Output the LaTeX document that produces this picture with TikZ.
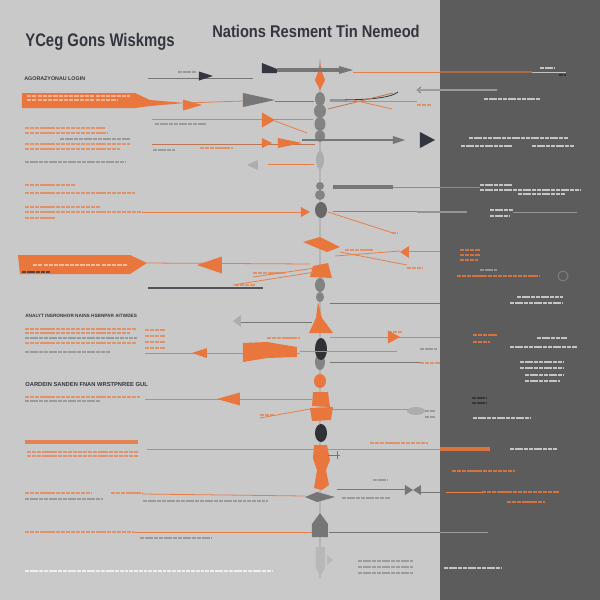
\documentclass[tikz,border=0pt]{standalone}
\usepackage{graphicx}
\usepackage{fontspec}
\setmainfont{Liberation Sans}
\usetikzlibrary{positioning,calc}
\definecolor{canvas}{HTML}{C9C9C9}
\definecolor{panel}{HTML}{5C5C5C}
\definecolor{ora}{HTML}{E9763C}
\definecolor{slate}{HTML}{33363E}
\definecolor{ash}{HTML}{767676}
\definecolor{fog}{HTML}{ADADAD}
\definecolor{coal}{HTML}{2F3136}
\definecolor{chalk}{HTML}{C4C4C4}

\begin{document}
\begin{tikzpicture}
[x=0.02cm, y=-0.02cm,
hdr/.style={anchor=west, inner sep=0pt, text=slate, font=\bfseries\fontsize{9}{9}\selectfont},
lbl/.style={anchor=west, inner sep=0pt, text=slate, font=\bfseries\fontsize{4}{4}\selectfont},
oline/.style={draw=ora!90!canvas, line width=0.45pt},
gline/.style={draw=ash, line width=0.45pt},
otxt/.style={draw=ora!65!canvas, line width=1.1pt, dash pattern=on 2.4pt off 0.5pt},
gtxt/.style={draw=ash!55!canvas, line width=1pt, dash pattern=on 2.2pt off 0.5pt},
wtxt/.style={draw=chalk, line width=1pt, dash pattern=on 2.2pt off 0.5pt},
tri/.pic={\path[pic actions] (0,-1) -- (1,0) -- (0,1) -- cycle;}]

\useasboundingbox (0,0) rectangle (600,600);
\fill[canvas] (0,0) rectangle (440,600);
\fill[panel] (440,0) rectangle (600,600);

% headings and labels
\node[hdr] (hdrL) at (25,42) {\resizebox{85pt}{7.5pt}{YCeg Gons Wiskmgs}};
\node[hdr] (hdrR) at (212,31) {\resizebox{118pt}{7pt}{Nations Resment Tin Nemeod}};
\node[lbl] (lblA) at (24,79) {\resizebox{34.6pt}{!}{AGORAZYONAU LOGIN}};
\node[lbl] (lblB) at (25,316) {\resizebox{63.5pt}{!}{ANALYT INSRONHOR NAINS HSBNPAR AITWDES}};
\node[lbl] (lblC) at (25,385) {\resizebox{69.7pt}{!}{OARDEIN SANDEN FNAN WRSTPNREE GUL}};

% text rows, left side
\foreach \xa/\xb/\yy in {25/105/128, 25/108/133, 25/130/144, 25/120/149, 25/75/185, 25/135/193,
  25/100/207, 25/143/212, 25/55/218, 25/137/329, 25/130/333, 25/137/343, 145/165/330, 145/165/336,
  145/165/342, 145/165/348, 25/140/397, 27/138/452, 27/138/456, 25/92/493, 111/142/493, 25/134/532,
  200/233/148, 267/300/338, 253/285/273, 235/255/285, 260/275/415, 388/402/332, 407/423/268,
  392/398/233, 345/373/250, 417/432/105, 370/428/443, 420/440/363}
  \draw[otxt] (\xa,\yy) -- (\xb,\yy);
\foreach \xa/\xb/\yy in {60/130/139, 25/125/162, 155/207/124, 153/175/150, 25/137/338, 25/110/352,
  25/100/401, 25/103/499, 143/268/501, 140/212/538, 178/196/72, 420/437/349, 425/435/411,
  425/435/417, 342/390/498, 373/388/480, 358/413/561, 358/413/567, 358/413/573}
  \draw[gtxt] (\xa,\yy) -- (\xb,\yy);
\draw[wtxt, draw=white!70!canvas, line width=1.2pt] (25,571) -- (272,571);

% text rows, dark panel
\foreach \xa/\xb/\yy in {540/555/68, 484/540/99, 469/568/138, 461/513/146, 532/574/146, 480/513/185,
  480/580/190, 518/565/194, 490/513/210, 490/510/216, 517/563/297, 510/563/303, 537/567/338,
  510/577/347, 520/563/362, 520/563/368, 525/563/375, 525/560/381, 473/530/418, 510/557/449,
  444/501/568}
  \draw[wtxt] (\xa,\yy) -- (\xb,\yy);
\foreach \xa/\xb/\yy in {460/480/250, 460/480/255, 460/478/260, 457/540/276, 473/497/335,
  473/490/342, 452/515/471, 482/559/492, 507/545/502}
  \draw[otxt, draw=ora!85!panel] (\xa,\yy) -- (\xb,\yy);
\draw[gtxt, draw=slate] (472,398) -- (487,398) (472,403) -- (487,403) (559,75) -- (566,75);
\draw[gtxt, draw=fog!70!panel] (480,270) -- (497,270);
\draw[fog!40!panel, line width=0.6pt] (563,276) circle [radius=5];

% banners
\fill[ora] (22,93) -- (135,93) -- (150,100) -- (185,103) -- (150,106) -- (135,108) -- (22,108) -- cycle;
\draw[ora!55!white, line width=0.9pt, dash pattern=on 2.4pt off 0.6pt] (27,96) -- (130,96) (27,100) -- (118,100);
\fill[ora] (18,255) -- (130,255) -- (147,263) -- (130,274) -- (20,274) -- cycle;
\draw[ora!50!white, line width=1pt, dash pattern=on 2.4pt off 0.6pt] (33,265) -- (127,265);
\draw[gtxt, draw=slate!80!ora] (22,272) -- (50,272);
\draw[ora!85!canvas, line width=2.4pt] (25,442) -- (138,442);

% spine
\coordinate (spT) at (320,60);
\coordinate (spB) at (320,578);
\draw[fog!70!canvas, line width=1.6pt] (spT) -- (spB);
\foreach \yy/\rx/\ry in {99/5/7, 111/6/7, 124/5.5/7, 136/5/6, 186/4/4, 195/5/5, 285/5/7, 297/4/5, 362/5/8}
  \fill[ash!85!canvas] (320,\yy) ellipse [x radius=\rx, y radius=\ry];
\fill[fog] (320,160) ellipse [x radius=4, y radius=9];
\fill[ash!80!coal] (321,210) ellipse [x radius=6, y radius=8];
\fill[coal] (321,349) ellipse [x radius=6, y radius=11];
\fill[coal] (321,433) ellipse [x radius=6, y radius=9];
\fill[ora] (320,62) -- (322,72) -- (325,80) -- (320,90) -- (315,80) -- (318,72) -- cycle;
\fill[ora] (303,242) -- (320,237) -- (340,247) -- (327,252) -- cycle;
\fill[ora] (310,277) -- (313,266) -- (328,263) -- (332,278) -- cycle;
\fill[ora] (318,302) -- (322,318) -- (333,333) -- (309,333) -- (316,318) -- cycle;
\fill[ora] (320,381) ellipse [x radius=6, y radius=7];
\fill[ora] (313,392) -- (328,392) -- (330,407) -- (312,406) -- cycle;
\fill[ora] (310,408) -- (333,407) -- (331,420) -- (312,421) -- cycle;
\fill[ora] (314,445) -- (327,445) -- (330,460) -- (326,470) -- (329,485) -- (322,490) -- (314,488) -- (317,470) -- (313,458) -- cycle;
\fill[ash] (305,497) -- (317,492) -- (335,497) -- (317,502) -- cycle;
\fill[ash] (312,537) -- (312,524) -- (320,513) -- (328,524) -- (328,537) -- cycle;
\fill[fog!60!canvas] (316,547) -- (325,547) -- (325,568) -- (320,576) -- (316,568) -- cycle;
\fill[fog!60!canvas] (327,555) -- (333,560) -- (327,565) -- cycle;

% row at 78
\coordinate (a0) at (148,78); \coordinate (a1) at (253,78);
\draw[gline] (a0) -- (a1);
\pic[fill=slate, xscale=14, yscale=4.5] at (199,76) {tri};
\fill[slate] (262,63) -- (277,69) -- (277,73) -- (262,73) -- cycle;
\coordinate (b0) at (277,70); \coordinate (b1) at (340,70);
\draw[ash, line width=2pt] (b0) -- (b1);
\pic[fill=ash, xscale=14, yscale=4] at (339,70) {tri};
\coordinate (c0) at (353,72); \coordinate (c1) at (440,72); \coordinate (c2) at (532,72); \coordinate (c3) at (566,72);
\draw[oline] (c0) -- (c1);
\draw[ora!55!panel, line width=1pt] (c1) -- (c2);
\draw[chalk, line width=0.4pt] (c2) -- (c3);

% row at 101
\coordinate (d0) at (185,103); \coordinate (d1) at (243,101);
\draw[oline] (d0) -- (d1);
\pic[fill=ora, xscale=19, yscale=5.5] at (183,105) {tri};
\pic[fill=ash, xscale=32, yscale=7] at (243,100) {tri};
\draw[gline] (275,101) -- (314,101);
\draw[slate, line width=0.45pt] (330,100) .. controls (370,100) and (390,98) .. (398,92);
\draw[oline] (330,101) -- (417,101);
\draw[ora!60!ash, line width=0.45pt] (328,109) -- (393,93);
\draw[oline] (353,100) -- (392,109);
\coordinate (e0) at (417,90); \coordinate (e1) at (497,90);
\draw[ash, line width=0.45pt] (421,87) -- (e0) -- (421,93);
\draw[chalk!60!panel, line width=0.6pt] (e0) -- (e1);

% row at 119
\draw[oline] (152,119) -- (313,119);
\pic[fill=ora, xscale=13, yscale=7.5] at (262,120) {tri};
\draw[oline] (275,121) -- (307,133);

% row at 143
\draw[oline, draw=ora!60!ash] (152,144) -- (315,144);
\pic[fill=ora, xscale=10, yscale=5] at (262,143) {tri};
\pic[fill=ora, xscale=24, yscale=5] at (278,143) {tri};
\draw[ash, line width=1.6pt] (302,140) -- (395,140);
\pic[fill=ash, xscale=12, yscale=4] at (393,140) {tri};
\pic[fill=slate, xscale=15, yscale=8] at (420,140) {tri};

% rows at 164 and 187
\pic[fill=fog, xscale=-11, yscale=5] at (258,165) {tri};
\draw[oline] (268,164) -- (314,164);
\draw[ash, line width=1.8pt] (333,187) -- (393,187);
\draw[gline, draw=ash!70!chalk] (393,187) -- (480,187);

% row at 212
\draw[oline] (143,212) -- (302,212);
\pic[fill=ora, xscale=9, yscale=5] at (301,212) {tri};
\draw[oline, draw=ora!50!ash] (333,211) -- (440,211);
\draw[oline] (328,212) -- (393,233);
\draw[fog!70!panel, line width=1.6pt] (417,212) -- (467,212);
\draw[ash!60!chalk, line width=0.45pt] (513,212) -- (577,212);

% row at 250
\draw[oline] (335,256) -- (400,251);
\draw[oline] (340,252) -- (407,265);
\pic[fill=ora, xscale=-9, yscale=6] at (409,252) {tri};
\draw[oline] (409,251) -- (440,251);

% row at 264
\draw[oline] (147,263) -- (310,264);
\pic[fill=ora, xscale=-25, yscale=8.5] at (222,265) {tri};
\draw[oline] (315,268) -- (253,277);
\draw[oline] (315,272) -- (233,285);
\draw[slate!80!canvas, line width=0.7pt] (148,288) -- (263,288);
\draw[gline] (330,303) -- (440,303);

% rows at 322 to 363
\pic[fill=fog, xscale=-8, yscale=6] at (241,321) {tri};
\draw[gline] (241,322) -- (312,322);
\draw[oline] (145,353) -- (300,353);
\pic[fill=ora, xscale=-15, yscale=5] at (207,353) {tri};
\fill[ora] (243,343) -- (267,342) -- (297,347) -- (297,357) -- (267,358) -- (243,362) -- cycle;
\draw[oline] (330,337) -- (440,337);
\pic[fill=ora, xscale=12, yscale=6.5] at (388,337) {tri};
\draw[oline] (300,351) -- (397,351);
\draw[gline] (330,362) -- (420,362);

% row at 399
\draw[oline] (145,399) -- (312,399);
\pic[fill=ora, xscale=-23, yscale=6.5] at (240,399) {tri};
\draw[oline] (310,409) -- (260,418);
\draw[oline] (328,409) -- (410,409);
\fill[fog] (416,411) ellipse [x radius=9, y radius=4];

% row at 449
\draw[oline] (147,449) -- (440,449);
\draw[ora!90!panel, line width=2pt] (440,449) -- (490,449);
\draw[ash, line width=0.45pt] (328,455) -- (340,455) (337,451) -- (337,459);

% row at 494
\draw[oline] (142,494) -- (305,496);
\draw[gline] (337,489) -- (405,489);
\fill[ash] (405,485) -- (413,490) -- (421,485) -- (421,495) -- (413,490) -- (405,495) -- cycle;
\draw[gline] (421,492) -- (440,492);
\draw[oline] (446,492) -- (482,492);

% row at 532
\draw[oline] (134,532) -- (312,532);
\draw[gline] (329,532) -- (440,532);
\draw[gline, draw=fog!80!panel] (440,532) -- (488,532);
\end{tikzpicture}
\end{document}
